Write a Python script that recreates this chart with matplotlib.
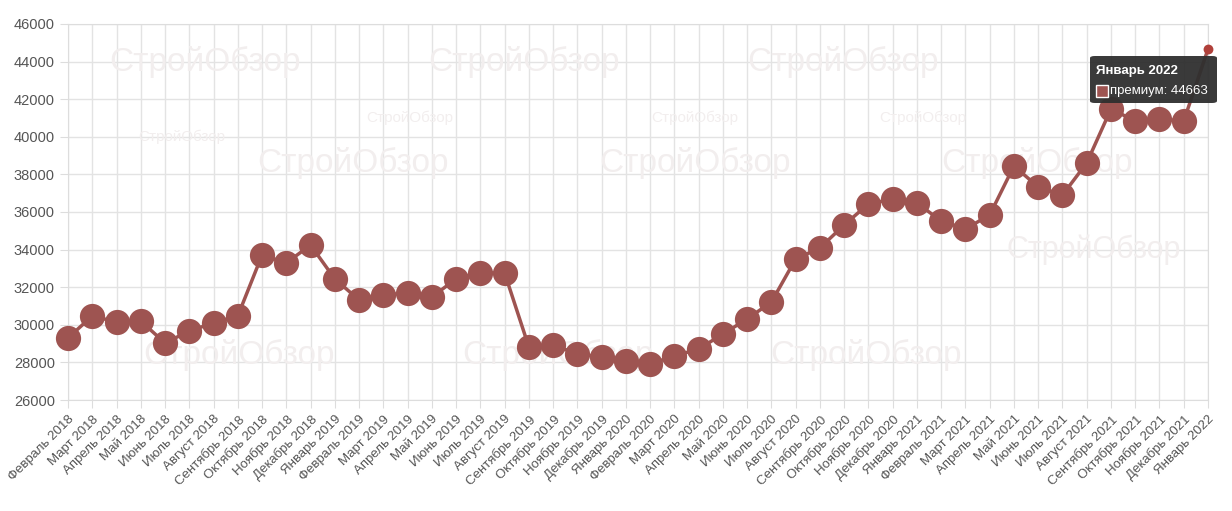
import matplotlib
matplotlib.use("Agg")
import matplotlib.pyplot as plt
from matplotlib.patches import FancyBboxPatch, Rectangle

plt.rcParams['font.family'] = ['Liberation Sans', 'DejaVu Sans']

months = ["Февраль","Март","Апрель","Май","Июнь","Июль","Август","Сентябрь","Октябрь","Ноябрь","Декабрь","Январь"]
labels = []
y, m = 2018, 0
for i in range(48):
    labels.append(f"{months[m]} {y}")
    if months[m] == "Декабрь":
        y += 1
    m = (m + 1) % 12
values = [29300,30470,30150,30200,29030,29670,30100,30470,33710,33290,34240,
          32440,31320,31590,31690,31480,32440,32760,32760,28820,28930,28450,28290,
          28070,27910,28340,28710,29510,30310,31210,33500,34090,35310,36430,36690,
          36480,35520,35100,35840,38450,37330,36900,38610,41480,40840,40950,40840,44663]

color = "#9e5451"
fig = plt.figure(figsize=(12.32, 5.11), dpi=100)
ax = fig.add_axes([68/1232, 1-400/511, 1140/1232, 376/511])
x = list(range(len(values)))
ax.plot(x, values, color=color, lw=2.5, zorder=3, clip_on=False)
ax.scatter(x[:-1], values[:-1], s=330, color=color, zorder=4, linewidths=0, clip_on=False)
ax.scatter(x[-1:], values[-1:], s=50, color="#b0403a", zorder=4, linewidths=0, clip_on=False)
ax.set_xlim(0, len(values)-1)
ax.set_ylim(26000, 46000)
ax.set_yticks(range(26000, 46001, 2000))
ax.set_xticks(x)
ax.set_xticklabels(labels, rotation=45, ha="right", rotation_mode="anchor", fontsize=9.5, color="#555")
ax.tick_params(axis="y", labelsize=10.5, colors="#555")
ax.tick_params(length=6, color="#ddd")
ax.grid(True, color="#e3e3e3", lw=1)
for s in ax.spines.values():
    s.set_color("#ddd")
ax.set_axisbelow(True)

# watermark
for (wx, wy, fs) in [(0.12,0.9,24),(0.4,0.9,24),(0.68,0.9,24),(0.25,0.63,24),(0.55,0.63,24),(0.85,0.63,24),
                     (0.1,0.7,11),(0.3,0.75,11),(0.55,0.75,11),(0.75,0.75,11),(0.15,0.12,24),(0.43,0.12,24),(0.7,0.12,24),(0.9,0.4,22)]:
    ax.text(wx, wy, "СтройОбзор", transform=ax.transAxes, fontsize=fs, color="#f2eeee",
            ha="center", va="center", zorder=1, clip_on=True)

# tooltip
tx0, ty0 = 1090/1232, 1-103/511
tw, th = 127/1232, 47/511
fig.patches.append(FancyBboxPatch((tx0, ty0), tw, th, boxstyle="round,pad=0,rounding_size=0.004",
                                  transform=fig.transFigure, facecolor="#2f2f2f", edgecolor="none", alpha=0.95, zorder=10))
fig.text(1096/1232, 1-71/511, "Январь 2022", color="white", fontsize=9.5, fontweight="bold", zorder=11, va="center")
fig.patches.append(Rectangle((1096/1232, 1-97/511), 12/1232, 12/511, transform=fig.transFigure,
                             facecolor=color, edgecolor="white", lw=1, zorder=11))
fig.text(1110/1232, 1-91/511, "премиум: 44663", color="white", fontsize=9.5, zorder=11, va="center")

fig.savefig("out.png", dpi=100)
